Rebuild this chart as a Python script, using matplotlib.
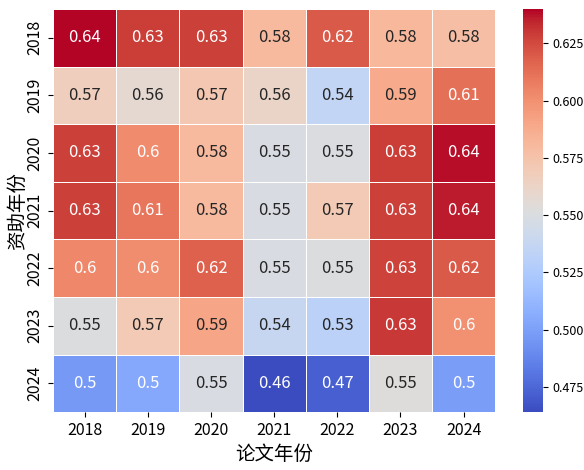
import numpy as np
import pandas as pd
import seaborn as sns
import matplotlib.pyplot as plt

plt.rcParams['font.family'] = ['Noto Sans CJK SC', 'DejaVu Sans']
plt.rcParams['axes.unicode_minus'] = False

years = [2018, 2019, 2020, 2021, 2022, 2023, 2024]

# 资助年份 (rows) x 论文年份 (columns)
row_2018 = [0.640, 0.629, 0.628, 0.580, 0.620, 0.581, 0.578]
row_2019 = [0.567, 0.558, 0.572, 0.562, 0.536, 0.588, 0.612]
row_2020 = [0.628, 0.602, 0.580, 0.549, 0.550, 0.629, 0.638]
row_2021 = [0.628, 0.610, 0.580, 0.549, 0.570, 0.628, 0.636]
row_2022 = [0.603, 0.601, 0.618, 0.549, 0.551, 0.627, 0.620]
row_2023 = [0.551, 0.570, 0.591, 0.538, 0.532, 0.630, 0.600]
row_2024 = [0.497, 0.504, 0.549, 0.464, 0.472, 0.553, 0.499]

cbar_ticks = [0.475, 0.500, 0.525, 0.550, 0.575, 0.600, 0.625]

data = pd.DataFrame([row_2018, row_2019, row_2020, row_2021,
                     row_2022, row_2023, row_2024],
                    index=years, columns=years)

fig = plt.figure(figsize=(5.84, 4.70), dpi=100)
ax = fig.add_axes([0.091, 0.123, 0.757, 0.858])
cax = fig.add_axes([0.896, 0.123, 0.034, 0.858])

sns.heatmap(data, annot=True, cmap='coolwarm', linewidths=0.6, linecolor='white',
            annot_kws={'size': 12}, ax=ax, cbar_ax=cax,
            cbar_kws={'ticks': cbar_ticks, 'format': '%.3f'})

ax.set_xlabel('论文年份', fontsize=14)
ax.set_ylabel('资助年份', fontsize=14, labelpad=-1)
ax.tick_params(axis='both', labelsize=11.5)
plt.setp(ax.get_yticklabels(), rotation=90, va='center')
cax.tick_params(labelsize=9)

fig.savefig('out.png', dpi=100)
